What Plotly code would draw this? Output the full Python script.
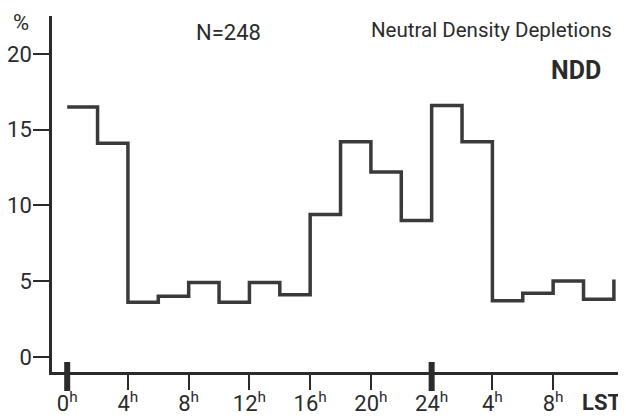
import plotly.graph_objects as go

# Local solar time bin starts (hours, continued past 24 h)
bin_start = [0, 2, 4, 6, 8, 10, 12, 14, 16, 18, 20, 22, 24, 26, 28, 30, 32, 34]
percent = [16.5, 14.1, 3.6, 4.0, 4.9, 3.6, 4.9, 4.1, 9.4, 14.2, 12.2, 9.0,
           16.6, 14.2, 3.7, 4.2, 5.0, 3.8]
end_hour = 36
end_value = 5.1

tick_vals = [0, 4, 8, 12, 16, 20, 24, 28, 32]
tick_text = ["0<sup>h</sup>", "4<sup>h</sup>", "8<sup>h</sup>", "12<sup>h</sup>", "16<sup>h</sup>",
             "20<sup>h</sup>", "24<sup>h</sup>", "4<sup>h</sup>", "8<sup>h</sup>"]
y_ticks = [0, 5, 10, 15, 20]

FONT = "Roboto, Liberation Sans, sans-serif"
INK = "#2b2b2b"

fig = go.Figure()
fig.add_trace(go.Scatter(
    x=bin_start + [end_hour],
    y=percent + [end_value],
    mode="lines",
    line=dict(shape="hv", color="#3a3a3a", width=3.5),
    hoverinfo="skip",
))

# the page body has an 8px margin; size the figure so it fills the window
OFF = 8
W, H = 618, 411
ml, mr, mt, mb = 44, 3, 8, 47
pw = W - ml - mr
ph = H - mt - mb


def py(pix):
    return (H - mb - (pix - OFF)) / ph


def px(pix):
    return ((pix - OFF) - ml) / pw


fig.update_layout(
    width=W, height=H,
    margin=dict(l=ml, r=mr, t=mt, b=mb),
    paper_bgcolor="white", plot_bgcolor="white",
    showlegend=False,
    font=dict(family=FONT, size=22, color=INK),
    xaxis=dict(
        range=[-1.0, 36.6], tickmode="array", tickvals=tick_vals, ticktext=tick_text,
        showgrid=False, zeroline=False, showline=True, linecolor=INK, linewidth=2.6,
        ticks="outside", ticklen=15, tickwidth=2.4, tickcolor=INK, automargin=False,
        ticklabelstandoff=-5,
        tickfont=dict(family=FONT, size=22, color=INK),
    ),
    yaxis=dict(
        range=[-1.0, 22.5], tickmode="array", tickvals=y_ticks,
        showgrid=False, zeroline=False, showline=True, linecolor=INK, linewidth=2.6,
        ticks="outside", ticklen=16, tickwidth=2.4, tickcolor=INK, automargin=False,
        ticklabelstandoff=-3,
        tickfont=dict(family=FONT, size=22, color=INK),
    ),
)

# thick day-boundary markers at 0 h and 24 h
for xv in [0, 24]:
    fig.add_shape(type="line", xref="x", yref="paper", x0=xv, x1=xv,
                  y0=py(362), y1=py(391), line=dict(color=INK, width=6))

annos = [
    dict(text="%", x=px(21), y=py(23), size=22, xanchor="center"),
    dict(text="N=248", x=px(228), y=py(32), size=22, xanchor="center"),
    dict(text="Neutral Density Depletions", x=px(614), y=py(30), size=20.5, xanchor="right"),
    dict(text="<b>NDD</b>", x=px(603), y=py(71), size=25, xanchor="right"),
    dict(text="<b>LST</b>", x=px(623), y=py(402), size=22, xanchor="right"),
]
for a in annos:
    fig.add_annotation(text=a["text"], xref="paper", yref="paper", x=a["x"], y=a["y"],
                       xanchor=a["xanchor"], yanchor="middle", showarrow=False,
                       font=dict(family=FONT, size=a["size"], color=INK))

fig.write_html("out.html")
